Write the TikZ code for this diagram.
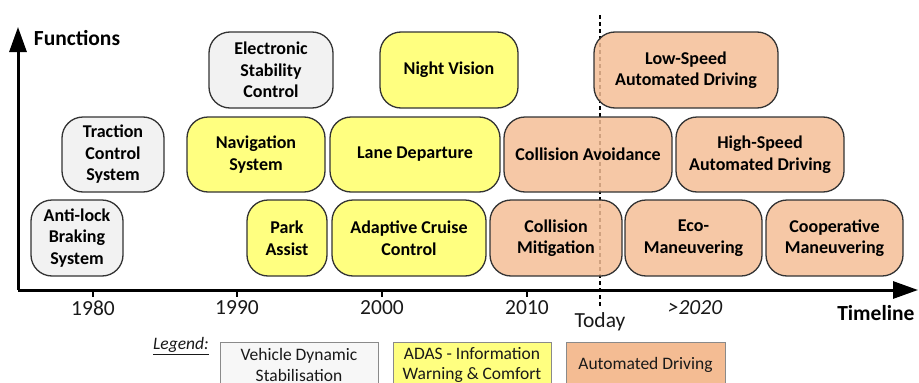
\documentclass[tikz,border=0pt]{standalone}
\usepackage{fontspec}
\setmainfont{Carlito}
\usetikzlibrary{arrows.meta}
\definecolor{vgray}{HTML}{F2F2F2}
\definecolor{vyellow}{HTML}{FFFF80}
\definecolor{vorange}{HTML}{F4BE96}
\definecolor{lorange}{HTML}{F4BC93}
\definecolor{bord}{HTML}{333333}
\definecolor{lbord}{HTML}{8A8A8A}
\begin{document}
\begin{tikzpicture}[x=1pt,y=-1pt,
  fbox/.style={draw=bord, line width=1.3pt, rounded corners=21pt, align=center,
    inner sep=0pt, font=\fontsize{18}{21.5}\selectfont\bfseries, text=black},
  grbox/.style={fbox, fill=vgray},
  yebox/.style={fbox, fill=vyellow},
  orbox/.style={fbox, fill=vorange, fill opacity=0.85, text opacity=1},
  legbox/.style={draw=lbord, line width=0.8pt, align=center, inner sep=0pt,
    font=\fontsize{17.5}{20.5}\selectfont, text=black!90},
  yearlab/.style={font=\fontsize{21.5}{24}\selectfont, text=black!90},
  axlab/.style={font=\fontsize{21.5}{24}\selectfont\bfseries},
  axisline/.style={line width=3pt, line join=miter, -{Triangle[length=25pt,width=17pt]}},
  tick/.style={line width=1.5pt},
  todayline/.style={line width=2.6pt, dash pattern=on 4pt off 3pt}
]
\useasboundingbox (0,0) rectangle (919,383);

% coordinates for axes
\coordinate (origin) at (18,290);
\coordinate (ytip) at (18,27);
\coordinate (xtip) at (918,290);
\coordinate (todaytop) at (600,15);
\coordinate (todaybot) at (600,308);

% today line (behind boxes)
\draw[todayline] (todaytop) -- (todaybot);

% axes
\draw[axisline] (origin) -- (ytip);
\draw[axisline] (origin) -- (xtip);

% ticks
\foreach \x/\n in {93/t80,237/t90,382/t00,527/t10}{
  \coordinate (\n a) at (\x,290);
  \coordinate (\n b) at (\x,297);
  \draw[tick] (\n a) -- (\n b);
}

% axis labels
\node[axlab] (functions) at (77,38) {Functions};
\node[axlab, anchor=east] (timeline) at (918,313) {Timeline};
\node[yearlab] (y80) at (93,308) {1980};
\node[yearlab] (y90) at (237,308) {1990};
\node[yearlab] (y00) at (382,308) {2000};
\node[yearlab] (y10) at (527,308) {2010};
\node[yearlab] (today) at (600,322) {Today};
\node[yearlab, font=\fontsize{21.5}{24}\selectfont\itshape] (y20) at (695,308) {>2020};

% row 1
\node[grbox, minimum width=124pt, minimum height=76pt] (esc) at (271,70) {Electronic\\Stability\\Control};
\node[yebox, minimum width=138pt, minimum height=76pt] (nv) at (449,70) {Night Vision};
\node[orbox, minimum width=184pt, minimum height=76pt] (ls) at (686,70) {Low-Speed\\Automated Driving};

% row 2
\node[grbox, minimum width=102pt, minimum height=75pt] (tcs) at (113,154.5) {Traction\\Control\\System};
\node[yebox, minimum width=138pt, minimum height=75pt] (nav) at (256,154.5) {Navigation\\System};
\node[yebox, minimum width=170pt, minimum height=75pt] (lane) at (415,154.5) {Lane Departure};
\node[orbox, minimum width=168pt, minimum height=75pt] (ca) at (588,154.5) {Collision Avoidance};
\node[orbox, minimum width=168pt, minimum height=75pt] (hs) at (760,154.5) {High-Speed\\Automated Driving};

% row 3
\node[grbox, minimum width=92pt, minimum height=76pt] (abs) at (77,238) {Anti-lock\\Braking\\System};
\node[yebox, minimum width=80pt, minimum height=76pt] (park) at (287,238) {Park\\Assist};
\node[yebox, minimum width=154pt, minimum height=76pt] (acc) at (409,238) {Adaptive Cruise\\Control};
\node[orbox, minimum width=132pt, minimum height=76pt] (cm) at (556,238) {Collision\\Mitigation};
\node[orbox, minimum width=137pt, minimum height=76pt] (eco) at (693.5,238) {Eco-\\Maneuvering};
\node[orbox, minimum width=137pt, minimum height=76pt] (coop) at (834.5,238) {Cooperative\\Maneuvering};

% legend
\node[font=\fontsize{17.5}{20}\selectfont\itshape, text=black!90] (legend) at (181,346) {\underline{Legend:}};
\node[legbox, fill=vgray!60, minimum width=158pt, minimum height=46pt] (lvds) at (299,365) {Vehicle Dynamic\\Stabilisation};
\node[legbox, fill=vyellow, minimum width=158pt, minimum height=46pt] (ladas) at (472,365) {ADAS - Information\\Warning \& Comfort};
\node[legbox, fill=lorange, minimum width=159pt, minimum height=46pt] (lad) at (645.5,365) {Automated Driving};
\end{tikzpicture}
\end{document}
